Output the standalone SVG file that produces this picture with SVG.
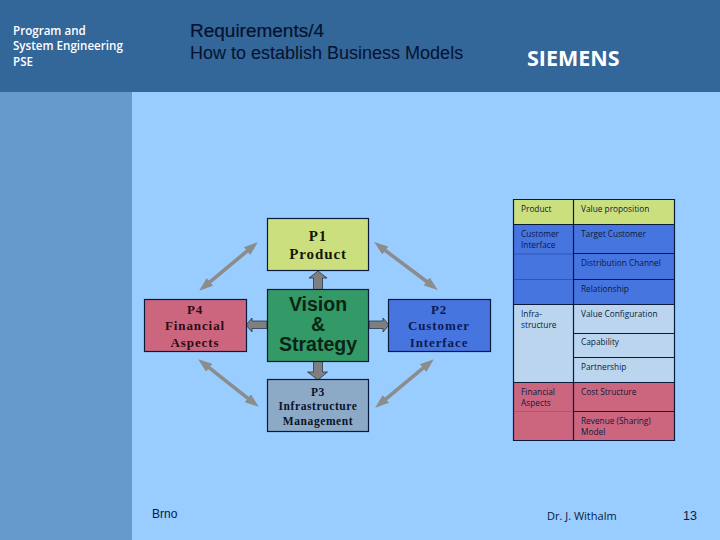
<svg xmlns="http://www.w3.org/2000/svg" width="720" height="540" viewBox="0 0 720 540">
<style>
.box{stroke:#0a1a3c;stroke-width:1.2}
.line{stroke:#0a1a3c;stroke-width:1.2;fill:none}
.serif{font-family:"Liberation Serif","DejaVu Serif",serif;font-weight:700;text-anchor:middle;letter-spacing:.9px}
.cell{font-family:"Open Sans","Noto Sans",sans-serif;font-size:8.3px;fill:#0a1a3c}
.side{font-family:"Open Sans","Noto Sans",sans-serif;font-size:11.6px;font-weight:600;fill:#fff}
.title{font-family:"Liberation Sans",Arial,sans-serif;font-size:18px;fill:#06122e}
.foot{fill:#0a1a3c}
.thin{stroke:#8c8c8c;stroke-width:3.6;fill:none;marker-start:url(#dh);marker-end:url(#dh)}
.fat{fill:#7f7f7f;stroke:#1c2a3c;stroke-width:.7}
</style>
<defs>
<marker id="dh" viewBox="0 0 10 10" refX="3" refY="5" markerUnits="userSpaceOnUse" markerWidth="14" markerHeight="10" preserveAspectRatio="none" orient="auto-start-reverse"><path d="M0 0L10 5L0 10Z" fill="#8c8c8c"/></marker>
</defs>
<rect width="720" height="540" fill="#99ccff"/>
<rect y="92" width="132" height="448" fill="#6699cc"/>
<rect width="720" height="92" fill="#336699"/>
<g id="header">
<text class="side" x="13" y="35">Program and</text>
<text class="side" x="13" y="50">System Engineering</text>
<text class="side" x="13" y="66">PSE</text>
<text class="title" x="190" y="37" textLength="134" lengthAdjust="spacingAndGlyphs" stroke="#06122e" stroke-width=".2">Requirements/4</text>
<text class="title" x="190" y="59">How to establish Business Models</text>
<text x="527" y="66" font-family="'Open Sans','Noto Sans',sans-serif" font-size="21.500" font-weight="700" fill="#fff">SIEMENS</text>
</g>
<g id="connectors">
<path class="thin" d="M206.700 284.600L250.300 248.400"/>
<path class="thin" d="M382 248L430 284"/>
<path class="thin" d="M426.300 365.400L382.700 401.600"/>
<path class="thin" d="M205.900 365.200L251.100 400.800"/>
<path class="fat" d="M318 271L327 278H322.500V289.500H313.500V278H309Z"/>
<path class="fat" d="M369 321H383V318L389 325L383 332V328.500H369Z"/>
<path class="fat" d="M318 380L307.500 372H313.500V361.500H322.500V372H327.500Z"/>
<path class="fat" d="M267 321H252V318L246 325L252 332V328.500H267Z"/>
</g>
<g id="p1"><rect class="box" x="267.500" y="218.500" width="101" height="52" fill="#ccdf7f"/>
<text class="serif" x="318" y="241" font-size="15" fill="#10180a">P1</text><text class="serif" x="318" y="259" font-size="15" fill="#10180a">Product</text></g>
<g id="vision"><rect class="box" x="267.500" y="289.500" width="101" height="72" fill="#339966"/>
<text font-family="'Liberation Sans',Arial,sans-serif" font-weight="700" font-size="19.500" text-anchor="middle" fill="#0a2418"><tspan x="318" y="310.500">Vision</tspan><tspan x="318" y="330.500">&amp;</tspan><tspan x="318" y="350.500">Strategy</tspan></text></g>
<g id="p2"><rect class="box" x="388.500" y="299.500" width="102" height="52" fill="#4775e0"/>
<g fill="#0c1c50" font-size="13"><text class="serif" x="439" y="314">P2</text><text class="serif" x="439" y="330">Customer</text><text class="serif" x="439" y="347">Interface</text></g></g>
<g id="p3"><rect class="box" x="267.500" y="379.500" width="101" height="52" fill="#8ca9c6"/>
<g fill="#0a1428" font-size="11.500"><text class="serif" x="318" y="396" style="letter-spacing:.6px">P3</text><text class="serif" x="318" y="410" style="letter-spacing:.6px">Infrastructure</text><text class="serif" x="318" y="425" style="letter-spacing:.6px">Management</text></g></g>
<g id="p4"><rect class="box" x="144.500" y="299.500" width="102" height="52" fill="#cc667f"/>
<g fill="#2c0c14" font-size="13"><text class="serif" x="195" y="314">P4</text><text class="serif" x="195" y="330">Financial</text><text class="serif" x="195" y="347">Aspects</text></g></g>
<g id="table">
<rect x="513.500" y="199.500" width="161" height="25" fill="#ccdf7f"/>
<rect x="513.500" y="224.500" width="161" height="80" fill="#4775e0"/>
<rect x="513.500" y="304.500" width="161" height="78" fill="#bbd5ee"/>
<rect x="513.500" y="382.500" width="161" height="58" fill="#cc667f"/>
<path d="M513.500 254H573M513.500 279.500H573" stroke="#2f58b8" stroke-width="1" fill="none"/>
<path d="M513.500 411.500H573" stroke="#e0405f" stroke-width="1" fill="none"/>
<path class="line" d="M513.500 199.500H674.500V440.500H513.500ZM573.500 199.500V440.500M513.500 224.500H674.500M573.500 253.500H674.500M573.500 279.500H674.500M513.500 304.500H674.500M573.500 333.500H674.500M573.500 357.500H674.500M513.500 382.500H674.500M573.500 411.500H674.500"/>
<text class="cell" x="521" y="212">Product</text>
<text class="cell" x="581" y="212">Value proposition</text>
<text class="cell" x="521" y="237">Customer</text><text class="cell" x="521" y="248">Interface</text>
<text class="cell" x="581" y="237">Target Customer</text>
<text class="cell" x="581" y="266">Distribution Channel</text>
<text class="cell" x="581" y="292">Relationship</text>
<text class="cell" x="521" y="317">Infra-</text><text class="cell" x="521" y="328">structure</text>
<text class="cell" x="581" y="317">Value Configuration</text>
<text class="cell" x="581" y="345">Capability</text>
<text class="cell" x="581" y="370">Partnership</text>
<text class="cell" x="521" y="395">Financial</text><text class="cell" x="521" y="406">Aspects</text>
<text class="cell" x="581" y="395">Cost Structure</text>
<text class="cell" x="581" y="424">Revenue (Sharing)</text><text class="cell" x="581" y="435">Model</text>
</g>
<g id="footer">
<text class="foot" x="152" y="518" font-size="12" font-family="'Liberation Sans',Arial,sans-serif">Brno</text>
<text class="foot" x="547" y="520" font-size="11" font-family="'Open Sans','Noto Sans',sans-serif">Dr. J. Withalm</text>
<text class="foot" x="683" y="520" font-size="12.500" font-family="'Liberation Sans',Arial,sans-serif">13</text>
</g>
</svg>
